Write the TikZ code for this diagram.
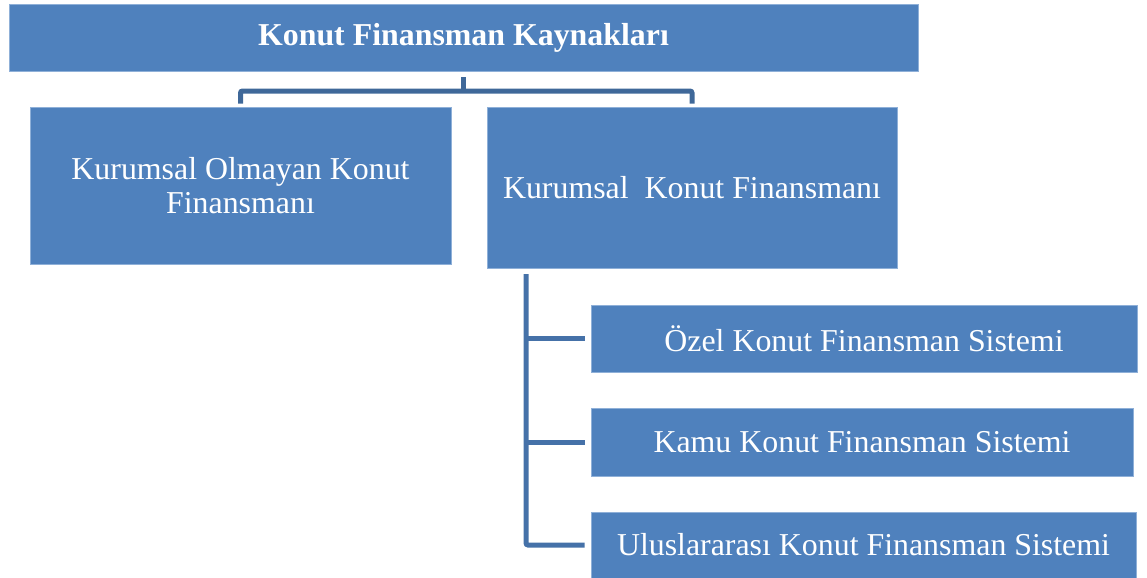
\documentclass[tikz,border=0pt]{standalone}
\usepackage{fontspec}
\setmainfont{Liberation Serif}
\definecolor{boxblue}{HTML}{4F81BD}
\definecolor{boxedge}{HTML}{8FB0D8}
\definecolor{connA}{HTML}{3F6899}
\definecolor{connB}{HTML}{4571A8}
\tikzset{
  box/.style={rectangle, fill=boxblue, draw=boxedge, line width=0.5pt, inner sep=0pt,
    text=white, align=center, font=\fontsize{23.9}{25}\selectfont},
  connA/.style={draw=connA, line width=3.75pt, rounded corners=1.5pt},
  connB/.style={draw=connB, line width=3.75pt, rounded corners=1.5pt}
}
\begin{document}
\begin{tikzpicture}[x=0.75pt, y=-0.75pt]
\useasboundingbox (0,0) rectangle (1147,578);
\node[box, minimum width=681.75pt, minimum height=50.25pt] (top) at (463.5,37.5) {\bfseries Konut Finansman Kaynakları};
\node[box, minimum width=315.75pt, minimum height=117.75pt] (left) at (240.5,185.5) {Kurumsal Olmayan Konut\\Finansmanı};
\node[box, minimum width=307.5pt, minimum height=120.75pt] (right) at (692,187.5) {Kurumsal\ \ Konut Finansmanı};
\node[box, minimum width=409.5pt, minimum height=50.25pt] (c1) at (864,338.5) {Özel Konut Finansman Sistemi};
\node[box, minimum width=406.5pt, minimum height=51pt] (c2) at (862,442) {Kamu Konut Finansman Sistemi};
\node[box, minimum width=408.75pt, minimum height=49.5pt] (c3) at (863.5,545) {Uluslararası Konut Finansman Sistemi};
\coordinate (bus) at (463.5,91);
\coordinate (trunk) at (526,269);
\draw[connA, shorten <=4.5pt] (top.south) -- (bus);
\draw[connA, shorten <=2.25pt, shorten >=2.25pt] (left.north) |- (bus) -| (right.north);
\draw[connB, shorten <=3.75pt, shorten >=4.5pt] (trunk) |- (c3.west);
\draw[connB, shorten >=4.5pt] (trunk |- c1.west) -- (c1.west);
\draw[connB, shorten >=4.5pt] (trunk |- c2.west) -- (c2.west);
\end{tikzpicture}
\end{document}
